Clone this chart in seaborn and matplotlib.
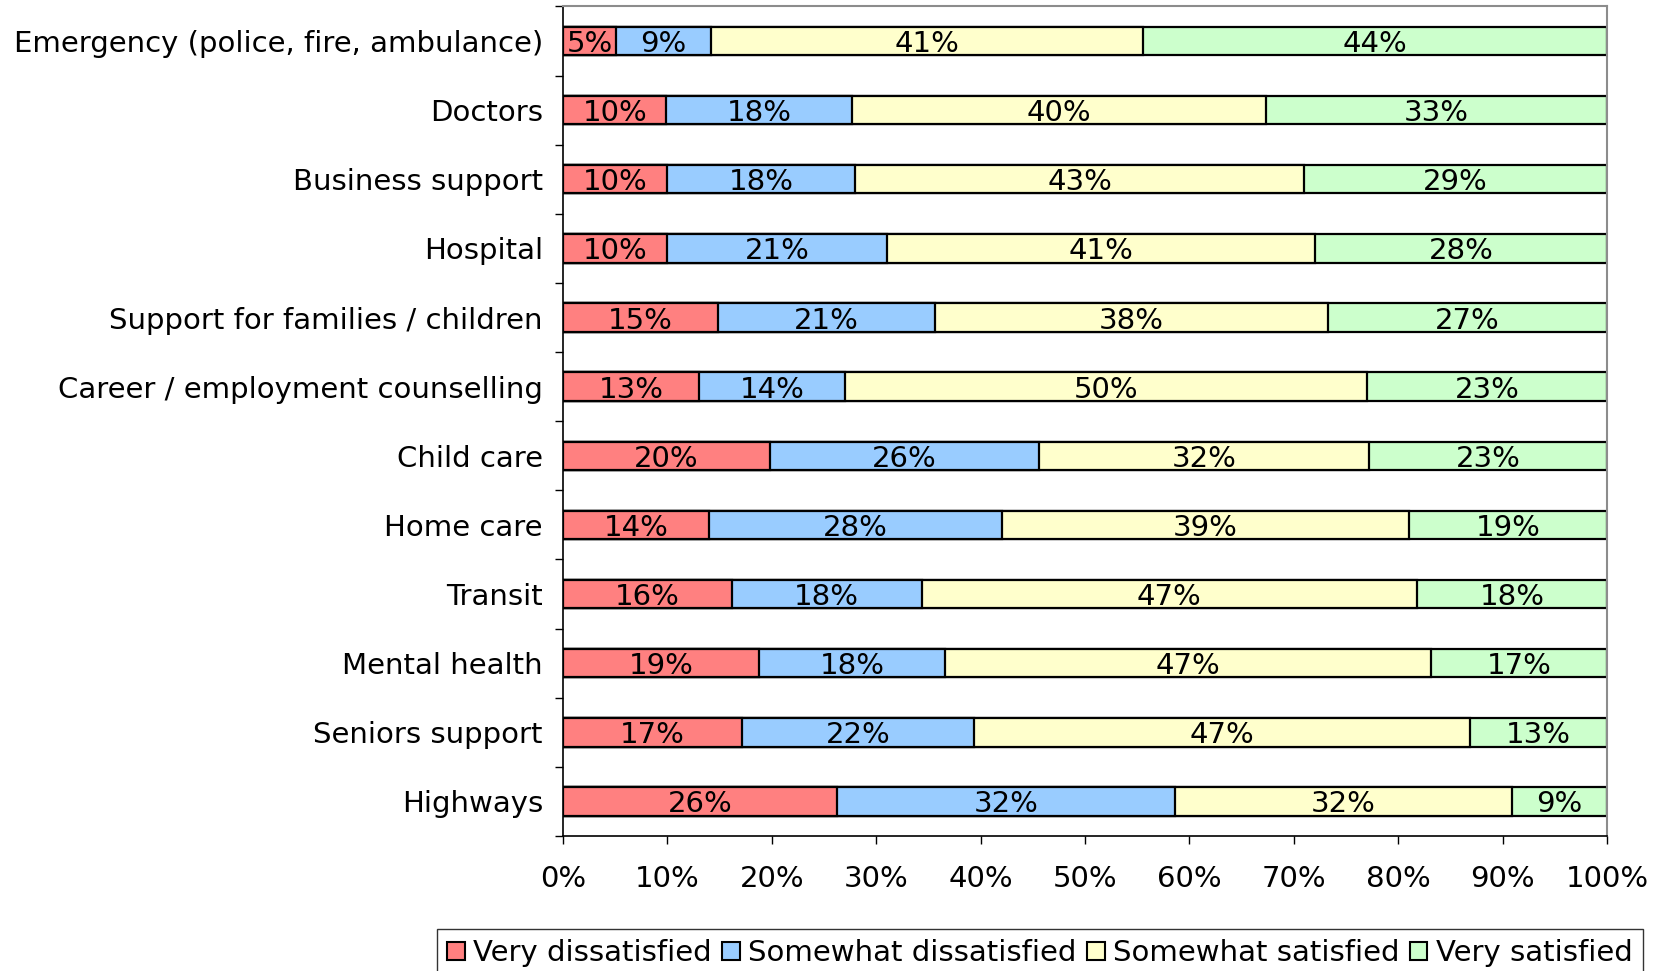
import numpy as np
import pandas as pd
import matplotlib
matplotlib.use("Agg")
import matplotlib.pyplot as plt
from matplotlib.patches import Patch
from matplotlib.ticker import FixedLocator, PercentFormatter
import seaborn as sns

sns.set_style("white")
plt.rcParams["font.family"] = ["DejaVu Sans"]
plt.rcParams["text.color"] = "black"
plt.rcParams["xtick.color"] = "black"
plt.rcParams["ytick.color"] = "black"
plt.rcParams["axes.labelcolor"] = "black"

# Data (percent as printed on the bars)
categories = [
    "Emergency (police, fire, ambulance)",
    "Doctors",
    "Business support",
    "Hospital",
    "Support for families / children",
    "Career / employment counselling",
    "Child care",
    "Home care",
    "Transit",
    "Mental health",
    "Seniors support",
    "Highways",
]
very_dissatisfied = [5, 10, 10, 10, 15, 13, 20, 14, 16, 19, 17, 26]
somewhat_dissatisfied = [9, 18, 18, 21, 21, 14, 26, 28, 18, 18, 22, 32]
somewhat_satisfied = [41, 40, 43, 41, 38, 50, 32, 39, 47, 47, 47, 32]
very_satisfied = [44, 33, 29, 28, 27, 23, 23, 19, 18, 17, 13, 9]

series_names = ["Very dissatisfied", "Somewhat dissatisfied",
                "Somewhat satisfied", "Very satisfied"]
colors = ["#FF8080", "#99CCFF", "#FFFFCC", "#CCFFCC"]

raw = np.array([very_dissatisfied, somewhat_dissatisfied,
                somewhat_satisfied, very_satisfied], dtype=float)
# 100% stacked: normalise each category to its total
shares = raw / raw.sum(axis=0) * 100
cum = np.cumsum(shares, axis=0)

fig = plt.figure(figsize=(16.63, 9.71), dpi=100)
ax = fig.add_axes([0.3386, 0.139, 0.6277, 0.8544])

# draw cumulative bars from the longest to the shortest so they stack visually
for i in range(len(series_names) - 1, -1, -1):
    df = pd.DataFrame({"category": categories, "value": cum[i]})
    sns.barplot(data=df, x="value", y="category", order=categories,
                orient="h", color=colors[i], saturation=1, width=0.41,
                edgecolor="black", linewidth=1.6, ax=ax)

# value labels in the middle of each segment
for i in range(len(series_names)):
    for j in range(len(categories)):
        start = cum[i][j] - shares[i][j]
        ax.text(start + shares[i][j] / 2, j, f"{int(raw[i][j])}%",
                ha="center", va="center_baseline", fontsize=21, color="black")

ax.set_xlim(0, 100)
ax.set_ylim(len(categories) - 0.5, -0.5)
ax.set_xlabel("")
ax.set_ylabel("")

ax.xaxis.set_major_locator(FixedLocator(np.arange(0, 101, 10)))
ax.xaxis.set_major_formatter(PercentFormatter(decimals=0))
ax.tick_params(axis="x", direction="out", length=6, width=1, pad=15,
               labelsize=21, bottom=True, color="black", labelcolor="black")
ax.tick_params(axis="y", which="major", length=0, pad=14.5, labelsize=21,
               labelcolor="black")
ax.yaxis.set_minor_locator(FixedLocator(np.arange(-0.5, len(categories), 1)))
ax.tick_params(axis="y", which="minor", direction="out", length=6, width=1,
               left=True, color="black")

for side in ["left", "bottom"]:
    ax.spines[side].set_color("black")
    ax.spines[side].set_linewidth(1.2)
for side in ["top", "right"]:
    ax.spines[side].set_color("#8c8c8c")
    ax.spines[side].set_linewidth(1.5)
ax.grid(False)

handles = [Patch(facecolor=c, edgecolor="black", linewidth=1.5) for c in colors]
leg = fig.legend(handles, series_names, loc="upper center",
                 bbox_to_anchor=(0.6254, 0.0433), ncol=4, fontsize=21,
                 frameon=True, fancybox=False, edgecolor="black",
                 handlelength=0.6, handleheight=0.6, handletextpad=0.3,
                 columnspacing=0.35, borderpad=0.35, borderaxespad=0)
leg.get_frame().set_linewidth(1.0)
for t in leg.get_texts():
    t.set_color("black")

fig.savefig("out.png", dpi=100)
